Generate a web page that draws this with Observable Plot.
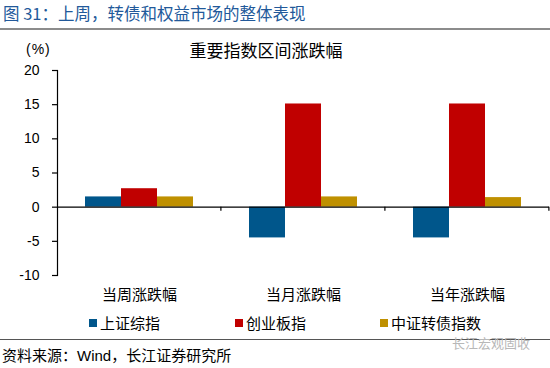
<!DOCTYPE html>
<html><head><meta charset="utf-8">
<script src="https://cdn.jsdelivr.net/npm/d3@7"></script>
<script src="https://cdn.jsdelivr.net/npm/@observablehq/plot@0.6"></script>
<style>
html,body{margin:0;padding:0;background:#fff}
body{width:550px;height:368px;position:relative;overflow:hidden;font-family:"Liberation Sans","Noto Sans CJK SC",sans-serif;color:#000}
.abs{position:absolute;white-space:nowrap}
#chart{position:absolute;left:0;top:60px}
.sw{position:absolute;width:8px;height:8px}
</style></head><body>
<div class="abs" style="left:3px;top:3px;font-size:16.5px;line-height:20px;color:#22599A;font-family:'Noto Sans CJK SC','Liberation Sans',sans-serif;">图 31：上周，转债和权益市场的整体表现</div>
<div class="abs" style="left:0;top:28px;width:550px;height:2px;background:#8c8c8c"></div>
<div class="abs" style="left:26px;top:41px;font-size:14px;line-height:16px;letter-spacing:1px">(%)</div>
<div class="abs" style="left:166px;top:40px;width:200px;text-align:center;font-size:17px;line-height:20px;font-family:'Noto Sans CJK SC',sans-serif">重要指数区间涨跌幅</div>
<div id="chart"></div>
<div id="legend"></div>
<div class="abs" style="left:0;top:339px;width:550px;height:1px;background:#555"></div>
<div class="abs" style="left:2px;top:347px;font-size:15px;line-height:18px">资料来源：Wind，长江证券研究所</div>
<div class="abs" style="left:452px;top:335px;font-size:13px;line-height:16px;color:#b8b8b8;font-family:'Noto Sans CJK SC',sans-serif">长江宏观固收</div>
<script>
const categories = ["当周涨跌幅", "当月涨跌幅", "当年涨跌幅"];
const series = ["上证综指", "创业板指", "中证转债指数"];
const colors = ["#00568B", "#C00000", "#BF9000"];
const shIndex = [1.5, -4.5, -4.5];
const gemIndex = [2.7, 15.1, 15.1];
const cbIndex = [1.5, 1.5, 1.4];
const yTicks = [-10, -5, 0, 5, 10, 15, 20];

const values = [shIndex, gemIndex, cbIndex];
const data = [];
categories.forEach((c, i) => series.forEach((s, j) => data.push({cat: c, series: s, value: values[j][i]})));

const W = 550, ML = 57, MR = 1;
const padOuter = 0.74;
const fw = (W - ML - MR) / categories.length;
const step = fw / (series.length + 2 * padOuter);

const plot = Plot.plot({
  width: W, height: 250,
  marginLeft: ML, marginRight: MR, marginTop: 10, marginBottom: 35,
  style: {fontFamily: "'Liberation Sans','Noto Sans CJK SC',sans-serif", fontSize: "14px", color: "#000", background: "transparent", overflow: "visible"},
  fx: {domain: categories, padding: 0, label: null},
  x: {domain: series, paddingInner: 0, paddingOuter: padOuter, axis: null, label: null},
  y: {domain: [-10, 20], label: null},
  color: {domain: series, range: colors},
  marks: [
    Plot.barY(data, {fx: "cat", x: "series", y: "value", fill: "series"}),
    Plot.ruleY([0], {stroke: "#000", strokeWidth: 1.3}),
    Plot.ruleX(categories, {fx: d => d, x: () => series[series.length - 1], y1: 0, y2: -0.6, dx: step / 2 + padOuter * step, stroke: "#000", strokeWidth: 1.2}),
    Plot.frame({anchor: "left", facetAnchor: "left", stroke: "#000", strokeWidth: 1.2}),
    Plot.axisY({ticks: yTicks, tickSize: 5, tickPadding: 13, tickFormat: d => String(d), label: null, fontSize: 14, stroke: "#000", strokeWidth: 1.2}),
    Plot.axisFx({anchor: "bottom", tickSize: 0, tickPadding: 14, label: null, fontSize: 15, fontFamily: "'Noto Sans CJK SC',sans-serif"})
  ]
});
document.getElementById("chart").appendChild(plot);

// legend
const legendPos = [89, 235, 380];
const legend = document.getElementById("legend");
series.forEach((s, i) => {
  const sw = document.createElement("div");
  sw.className = "sw";
  sw.style.left = legendPos[i] + "px";
  sw.style.top = "319px";
  sw.style.background = colors[i];
  legend.appendChild(sw);
  const t = document.createElement("div");
  t.className = "abs";
  t.style.left = (legendPos[i] + 11) + "px";
  t.style.top = "313px";
  t.style.fontSize = "15px";
  t.style.lineHeight = "20px";
  t.style.fontFamily = "'Noto Sans CJK SC',sans-serif";
  t.textContent = s;
  legend.appendChild(t);
});
</script>
</body></html>
